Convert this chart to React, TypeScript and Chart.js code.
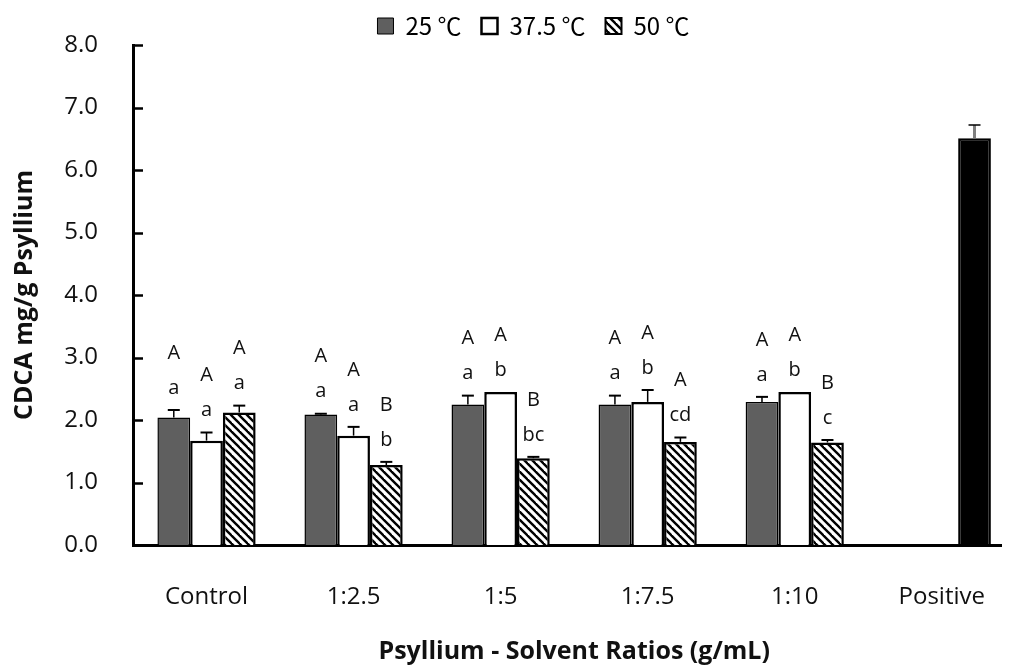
import React, { useEffect, useRef } from 'react';
import { Chart, registerables } from 'chart.js';

Chart.register(...registerables);

const categories = ['Control', '1:2.5', '1:5', '1:7.5', '1:10', 'Positive'];
const seriesNames = ['25 ℃', '37.5 ℃', '50 ℃'];

const mean25 = [2.04, 2.09, 2.25, 2.25, 2.29, null];
const err25 = [0.12, 0.01, 0.14, 0.14, 0.08, null];
const mean375 = [1.67, 1.75, 2.45, 2.29, 2.45, null];
const err375 = [0.13, 0.14, 0.0, 0.19, 0.0, null];
const mean50 = [2.12, 1.28, 1.39, 1.65, 1.64, 6.51];
const err50 = [0.11, 0.05, 0.02, 0.07, 0.04, 0.21];

const upper25 = ['A', 'A', 'A', 'A', 'A', ''];
const lower25 = ['a', 'a', 'a', 'a', 'a', ''];
const upper375 = ['A', 'A', 'A', 'A', 'A', ''];
const lower375 = ['a', 'a', 'b', 'b', 'b', ''];
const upper50 = ['A', 'B', 'B', 'A', 'B', ''];
const lower50 = ['a', 'b', 'bc', 'cd', 'c', ''];

const yMin = 0;
const yMax = 8;
const yStep = 1;

const FONT = '"Open Sans", "Noto Sans CJK KR", sans-serif';
const LEGEND_FONT = '"Noto Sans CJK KR", "Open Sans", sans-serif';

function makeHatch(ctx: CanvasRenderingContext2D) {
  const c = document.createElement('canvas');
  c.width = 8;
  c.height = 8;
  const g = c.getContext('2d')!;
  g.fillStyle = '#ffffff';
  g.fillRect(0, 0, 8, 8);
  g.strokeStyle = '#000000';
  g.lineWidth = 2.4;
  for (const o of [-8, 0, 8]) {
    g.beginPath();
    g.moveTo(o - 2, -2);
    g.lineTo(o + 10, 10);
    g.stroke();
  }
  return ctx.createPattern(c, 'repeat')!;
}

export default function App() {
  const canvasRef = useRef<HTMLCanvasElement | null>(null);

  useEffect(() => {
    document.documentElement.style.overflow = 'hidden';
    document.body.style.overflow = 'hidden';
    const canvas = canvasRef.current!;
    const ctx = canvas.getContext('2d')!;
    const hatch = makeHatch(ctx);

    const errs = [err25, err375, err50];
    const uppers = [upper25, upper375, upper50];
    const lowers = [lower25, lower375, lower50];

    const legendShift = {
      id: 'legendShift',
      afterLayout(chart: any) {
        const l = chart.legend;
        if (l) {
          l.left += 18;
          l.right += 18;
          l.top -= 14;
        }
      },
    };

    const annotate = {
      id: 'annotate',
      afterDatasetsDraw(chart: any) {
        const c = chart.ctx;
        const y = chart.scales.y;
        c.save();
        chart.data.datasets.forEach((ds: any, d: number) => {
          const meta = chart.getDatasetMeta(d);
          meta.data.forEach((bar: any, i: number) => {
            const v = ds.data[i];
            if (v == null) return;
            const e = errs[d][i] || 0;
            const x = bar.x;
            const yTop = y.getPixelForValue(v);
            const yErr = y.getPixelForValue(v + e);
            if (e > 0) {
              const positive = i === categories.length - 1;
              c.beginPath();
              c.strokeStyle = positive ? '#808080' : '#000';
              c.lineWidth = positive ? 3 : 1.5;
              c.moveTo(x, yTop);
              c.lineTo(x, yErr);
              c.stroke();
              c.beginPath();
              c.strokeStyle = '#000';
              c.lineWidth = positive ? 1.5 : 2;
              c.moveTo(x - 6, yErr);
              c.lineTo(x + 6, yErr);
              c.stroke();
            }
            const lo = lowers[d][i];
            const up = uppers[d][i];
            c.fillStyle = '#111';
            c.font = `20px ${FONT}`;
            c.textAlign = 'center';
            c.textBaseline = 'middle';
            if (lo) c.fillText(lo, x, yErr - 22);
            if (up) c.fillText(up, x, yErr - 57);
          });
        });
        c.restore();
      },
      afterDraw(chart: any) {
        const c = chart.ctx;
        const y = chart.scales.y;
        const left = chart.chartArea.left;
        c.save();
        c.strokeStyle = '#000';
        c.lineWidth = 2.5;
        y.ticks.forEach((t: any) => {
          const py = Math.round(y.getPixelForValue(t.value)) + 0.5;
          c.beginPath();
          c.moveTo(left, py);
          c.lineTo(left + 10, py);
          c.stroke();
        });
        c.restore();
      },
    };

    const common = {
      borderColor: '#000000',
      categoryPercentage: 0.668,
      barPercentage: 1.0,
    };

    const chart = new Chart(ctx, {
      type: 'bar',
      data: {
        labels: categories,
        datasets: [
          { ...common, label: seriesNames[0], data: mean25, backgroundColor: '#5f5f5f', borderWidth: 1.5 },
          { ...common, label: seriesNames[1], data: mean375, backgroundColor: '#ffffff', borderWidth: 2.5 },
          {
            ...common,
            label: seriesNames[2],
            data: mean50,
            backgroundColor: (c: any) => (c.dataIndex === categories.length - 1 ? '#000000' : hatch),
            borderWidth: 2.5,
          },
        ],
      },
      options: {
        responsive: false,
        animation: false,
        layout: { padding: { top: 0, left: 0, right: 0, bottom: 0 } },
        font: { family: FONT },
        plugins: {
          tooltip: { enabled: false },
          legend: {
            position: 'top',
            maxHeight: 37,
            labels: {
              boxWidth: 16,
              boxHeight: 16,
              padding: 20,
              color: '#111',
              font: { size: 24, family: LEGEND_FONT },
              generateLabels: () => [
                { text: seriesNames[0], fillStyle: '#5f5f5f', strokeStyle: '#000', lineWidth: 1, datasetIndex: 0, hidden: false },
                { text: seriesNames[1], fillStyle: '#ffffff', strokeStyle: '#000', lineWidth: 2.5, datasetIndex: 1, hidden: false },
                { text: seriesNames[2], fillStyle: hatch, strokeStyle: '#000', lineWidth: 2, datasetIndex: 2, hidden: false },
              ],
            },
          },
        },
        scales: {
          x: {
            grid: { display: false, drawTicks: false },
            border: { display: true, color: '#000', width: 3 },
            ticks: { padding: 38, color: '#111', font: { size: 24, family: FONT } },
            title: {
              display: true,
              text: 'Psyllium - Solvent Ratios (g/mL)',
              color: '#111',
              font: { size: 25, weight: 'bold', family: FONT },
              padding: { top: 0, bottom: 0 },
            },
            afterFit: (s: any) => {
              s.height = 122;
            },
          },
          y: {
            min: yMin,
            max: yMax,
            grid: { display: false, drawTicks: false },
            border: { display: true, color: '#000', width: 3 },
            ticks: {
              stepSize: yStep,
              padding: 35,
              color: '#111',
              font: { size: 24, family: FONT },
              callback: (v: any) => Number(v).toFixed(1),
            },
            title: {
              display: true,
              text: 'CDCA mg/g Psyllium',
              color: '#111',
              font: { size: 25, weight: 'bold', family: FONT },
              padding: { top: 2, bottom: 0 },
            },
            afterFit: (s: any) => {
              s.width = 125;
              s.paddingTop = 15;
              s.paddingBottom = 15;
            },
          },
        },
      },
      plugins: [legendShift, annotate],
    } as any);

    return () => {
      chart.destroy();
    };
  }, []);

  return (
    <div style={{ width: 1002, height: 659, overflow: 'hidden' }}>
      <canvas ref={canvasRef} width={1015} height={659} style={{ display: 'block' }} />
    </div>
  );
}
